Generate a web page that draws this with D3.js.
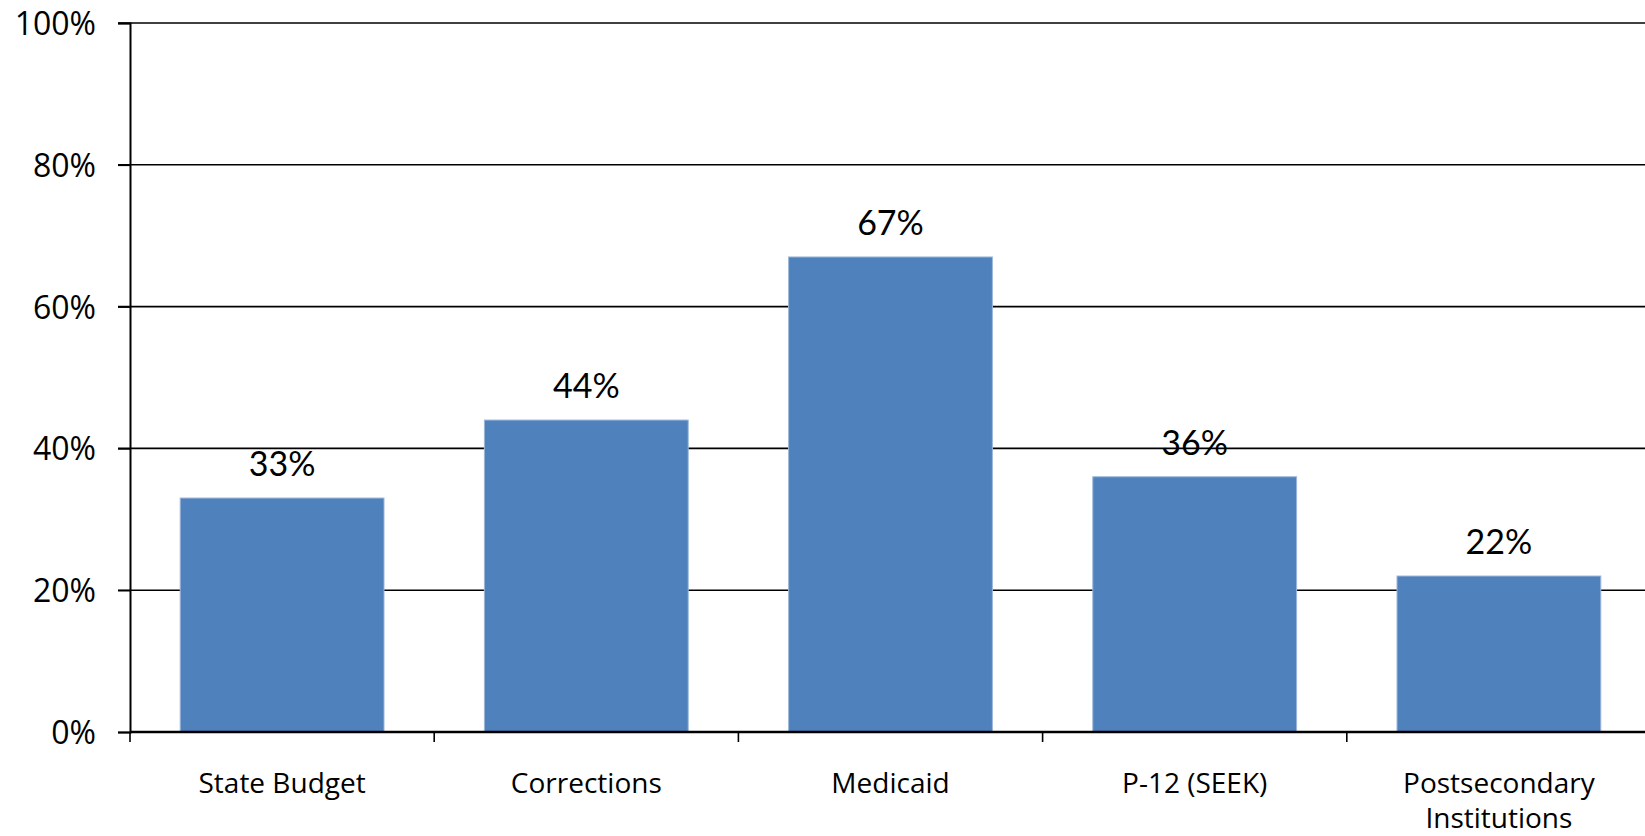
<!DOCTYPE html>
<html>
<head>
<meta charset="utf-8">
<script src="https://cdn.jsdelivr.net/npm/d3@7"></script>
<style>
  body { margin: 0; background: #fff; }
  .axis-text { font-family: "Open Sans", sans-serif; font-size: 28px; fill: #000; }
  .y-text { font-family: "Open Sans", sans-serif; font-size: 32px; fill: #000; }
  .val-text { font-family: "Lato", "DejaVu Sans", sans-serif; font-weight: 400; font-size: 34px; fill: #000; }
</style>
</head>
<body>
<div class="chart"></div>
<script>
const categories = ["State Budget", "Corrections", "Medicaid", "P-12 (SEEK)", "Postsecondary Institutions"];
const values = [33, 44, 67, 36, 22];
const yTicks = [0, 20, 40, 60, 80, 100];

var margin = {top: 23, right: -6, bottom: 104, left: 130},
    width = 1645 - margin.left - margin.right,
    height = 836 - margin.top - margin.bottom;

var svg = d3.select('.chart')
    .append('svg')
    .attr("width", 1645)
    .attr("height", 836)
    .append("g")
    .attr("transform", "translate(" + margin.left + "," + margin.top + ")");

var x = d3.scaleBand()
    .domain(categories)
    .range([0, width])
    .paddingInner(0.33)
    .paddingOuter(0.165);

var y = d3.scaleLinear()
    .domain([0, 100])
    .range([height, 0]);

// gridlines, behind the bars
svg.selectAll(".grid")
    .data(yTicks.filter(function (d) { return d > 0; }))
    .enter()
    .append("line")
    .attr("x1", -12)
    .attr("x2", width)
    .attr("y1", function (d) { return y(d); })
    .attr("y2", function (d) { return y(d); })
    .attr("stroke", "#000")
    .attr("stroke-width", 1.6);

svg.selectAll(".bar")
    .data(values)
    .enter()
    .append("rect")
    .attr("x", function (d, i) { return x(categories[i]); })
    .attr("y", function (d) { return y(d); })
    .attr("width", x.bandwidth())
    .attr("height", function (d) { return height - y(d); })
    .attr("fill", "#4F81BD")
    .attr("stroke", "#9DB7DA")
    .attr("stroke-width", 1);

// y axis
var yAxis = svg.append("g")
    .call(d3.axisLeft(y).tickValues(yTicks).tickSize(12).tickPadding(22)
        .tickFormat(function (d) { return d + "%"; }));
yAxis.select(".domain").attr("stroke-width", 2);
yAxis.selectAll(".tick line").attr("stroke-width", 1.6);
yAxis.selectAll("text").attr("class", "y-text").attr("fill", null).attr("font-size", null).attr("font-family", null)
    .attr("dy", "0.36em");

// x axis: ticks at band boundaries
var boundaries = d3.range(categories.length + 1).map(function (i) { return i * x.step(); });
var xg = svg.append("g").attr("transform", "translate(0," + height + ")");
xg.append("line")
    .attr("x1", 0).attr("x2", width)
    .attr("stroke", "#000").attr("stroke-width", 2.4);
xg.selectAll(".xt")
    .data(boundaries)
    .enter()
    .append("line")
    .attr("x1", function (d) { return d; })
    .attr("x2", function (d) { return d; })
    .attr("y1", 0).attr("y2", 10)
    .attr("stroke", "#000").attr("stroke-width", 1.6);

var labels = [["State Budget"], ["Corrections"], ["Medicaid"], ["P-12 (SEEK)"], ["Postsecondary", "Institutions"]];
xg.selectAll(".xl")
    .data(categories)
    .enter()
    .append("text")
    .attr("class", "axis-text")
    .attr("text-anchor", "middle")
    .attr("x", function (d) { return x(d) + x.bandwidth() / 2; })
    .attr("y", 61)
    .each(function (d, i) {
        var t = d3.select(this);
        labels[i].forEach(function (line, j) {
            t.append("tspan")
                .attr("x", x(d) + x.bandwidth() / 2)
                .attr("dy", j === 0 ? 0 : 35)
                .text(line);
        });
    });

// value labels
svg.selectAll(".val")
    .data(values)
    .enter()
    .append("text")
    .attr("class", "val-text")
    .attr("text-anchor", "middle")
    .attr("x", function (d, i) { return x(categories[i]) + x.bandwidth() / 2; })
    .attr("y", function (d) { return y(d) - 22; })
    .text(function (d) { return d + "%"; });
</script>
</body>
</html>
